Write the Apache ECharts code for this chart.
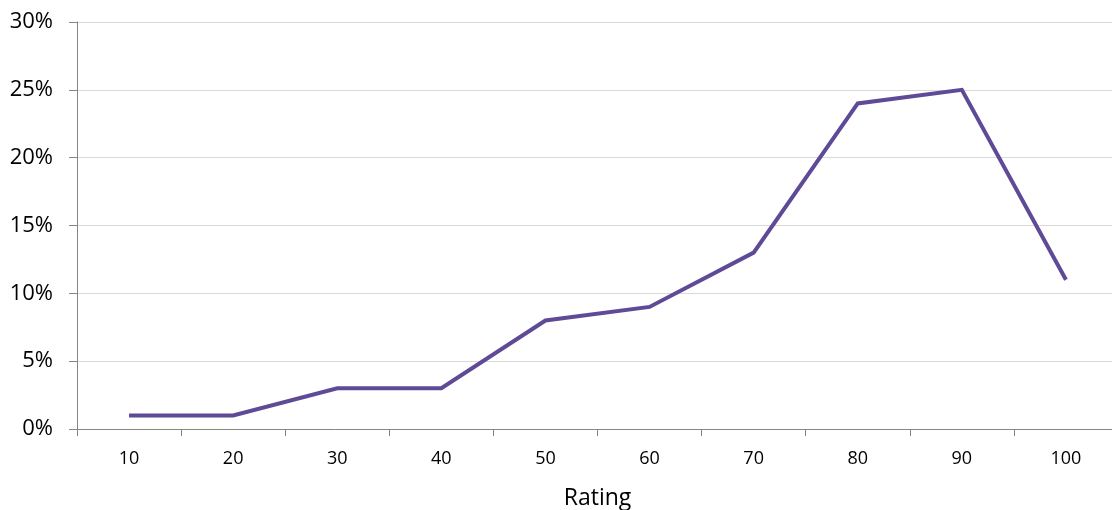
<!DOCTYPE html>
<html>
<head>
<meta charset="utf-8">
<script src="https://cdn.jsdelivr.net/npm/echarts@6/dist/echarts.min.js"></script>
<style>html,body{margin:0;padding:0;background:#fff;}#c{width:1112px;height:510px;}</style>
</head>
<body>
<div id="c"></div>
<script>
const categories = ['10','20','30','40','50','60','70','80','90','100'];
const values = [1, 1, 3, 3, 8, 9, 13, 24, 25, 11];
const yTicks = [0, 5, 10, 15, 20, 25, 30];

const chart = echarts.init(document.getElementById('c'));
chart.setOption({
  animation: false,
  grid: { left: 77, top: 22, bottom: 81, right: -6, containLabel: false, outerBoundsMode: 'none' },
  xAxis: {
    type: 'category',
    data: categories,
    boundaryGap: true,
    name: 'Rating',
    nameLocation: 'middle',
    nameGap: 58,
    nameTextStyle: { fontFamily: 'Open Sans', fontSize: 23, color: '#000' },
    axisLine: { lineStyle: { color: '#868686', width: 1 } },
    axisTick: { show: true, length: 7, alignWithLabel: false, lineStyle: { color: '#868686' } },
    axisLabel: { fontFamily: 'Open Sans', fontSize: 18, color: '#000', margin: 21 },
    splitLine: { show: false }
  },
  yAxis: {
    type: 'value',
    min: yTicks[0],
    max: yTicks[yTicks.length - 1],
    interval: 5,
    axisLine: { show: true, lineStyle: { color: '#868686', width: 1 } },
    axisTick: { show: true, length: 8, lineStyle: { color: '#868686' } },
    axisLabel: { fontFamily: 'Open Sans', fontSize: 22, color: '#000', margin: 24, formatter: v => v + '%' },
    splitLine: { lineStyle: { color: '#d9d9d9', width: 1 } }
  },
  series: [{
    type: 'line',
    data: values,
    symbol: 'none',
    lineStyle: { color: '#5f4a97', width: 4, join: 'miter' },
    itemStyle: { color: '#5f4a97' }
  }]
});
</script>
</body>
</html>
